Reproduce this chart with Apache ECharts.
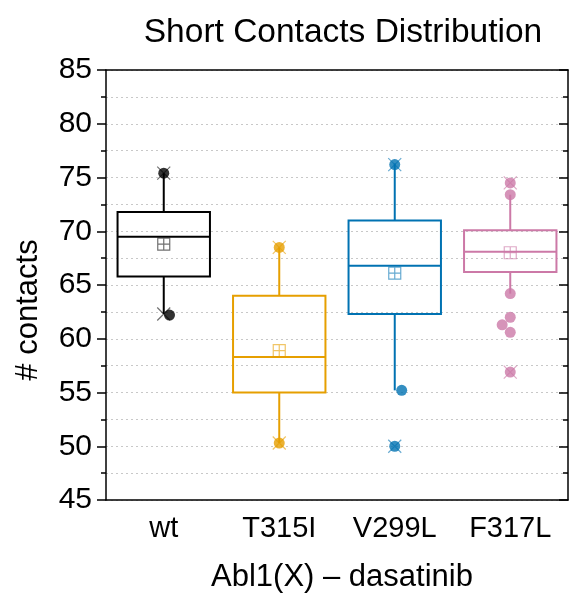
<!DOCTYPE html>
<html>
<head>
<meta charset="utf-8">
<title>Short Contacts Distribution</title>
<script src="https://cdn.jsdelivr.net/npm/echarts@6/dist/echarts.min.js"></script>
<style>
  html, body { margin: 0; padding: 0; background: #fff; }
  #chart { width: 569px; height: 596px; }
</style>
</head>
<body>
<div id="chart"></div>
<script>
// categories and box statistics
var categories = ['wt', 'T315I', 'V299L', 'F317L'];
var whiskerLow  = [62.3, 50.3, 55.2, 64.2];
var q1          = [65.8, 55.0, 62.3, 66.2];
var median      = [69.5, 58.3, 66.8, 68.1];
var q3          = [71.8, 64.0, 71.0, 70.1];
var whiskerHigh = [75.4, 68.5, 76.3, 73.4];
var means       = [68.8, 58.9, 66.1, 68.0];
var minVals     = [62.3, 50.3, 50.0, 56.9];
var maxVals     = [75.4, 68.5, 76.2, 74.5];

// single points (category index, value, small horizontal jitter in category units)
var dotCat   = [0, 0, 1, 1, 2, 2, 2, 3, 3, 3, 3, 3, 3, 3];
var dotVal   = [75.4, 62.2, 68.5, 50.3, 76.2, 55.2, 50.0, 74.5, 73.4, 64.2, 62.0, 61.3, 60.6, 56.9];
var dotShift = [0, 0.05, 0, 0, 0, 0.06, 0, 0, 0, 0, 0, -0.07, 0, 0];

var yTicks = [45, 50, 55, 60, 65, 70, 75, 80, 85];

var colors = ['#000000', '#E69F00', '#0072B2', '#CC79A7'];
var faded  = ['rgba(0,0,0,0.7)', 'rgba(230,159,0,0.75)', 'rgba(0,114,178,0.75)', 'rgba(204,121,167,0.8)'];
var FONT = '"Liberation Sans", Arial, sans-serif';

var chart = echarts.init(document.getElementById('chart'));

var boxData = categories.map(function (c, i) {
  return [i, whiskerLow[i], q1[i], median[i], q3[i], whiskerHigh[i]];
});

function renderBox(params, api) {
  var i = api.value(0);
  var col = colors[params.dataIndex];
  var lo = api.coord([i, api.value(1)]);
  var b1 = api.coord([i, api.value(2)]);
  var md = api.coord([i, api.value(3)]);
  var b3 = api.coord([i, api.value(4)]);
  var hi = api.coord([i, api.value(5)]);
  var half = api.size([1, 0])[0] * 0.8 / 2;
  var line = { stroke: col, lineWidth: 2 };
  return {
    type: 'group',
    children: [
      { type: 'line', shape: { x1: lo[0], y1: lo[1], x2: b1[0], y2: b1[1] }, style: line },
      { type: 'line', shape: { x1: b3[0], y1: b3[1], x2: hi[0], y2: hi[1] }, style: line },
      { type: 'rect', shape: { x: b3[0] - half, y: b3[1], width: half * 2, height: b1[1] - b3[1] },
        style: { fill: 'none', stroke: col, lineWidth: 2 } },
      { type: 'line', shape: { x1: md[0] - half, y1: md[1], x2: md[0] + half, y2: md[1] }, style: line }
    ]
  };
}

var crossSymbol = 'path://M0,0L10,10M10,0L0,10';
var meanSymbol = 'path://M0,0H10V10H0ZM5,0V10M0,5H10';

var extremeData = [];
categories.forEach(function (c, i) {
  extremeData.push({ value: [i, maxVals[i]], itemStyle: { borderColor: faded[i] } });
  extremeData.push({ value: [i, minVals[i]], itemStyle: { borderColor: faded[i] } });
});

var dotData = dotVal.map(function (v, k) {
  return { value: [dotCat[k] + dotShift[k], v], itemStyle: { color: colors[dotCat[k]] } };
});

var meanData = means.map(function (m, i) {
  return { value: [i, m], itemStyle: { borderColor: faded[i] } };
});

var axisLine = { show: true, onZero: false, lineStyle: { color: '#000', width: 1.5 } };

chart.setOption({
  animation: false,
  title: {
    text: 'Short Contacts Distribution',
    left: 338,
    top: 11,
    textAlign: 'center',
    textStyle: { fontFamily: FONT, fontSize: 33.5, fontWeight: 'normal', color: '#000' }
  },
  grid: { left: 106, right: 1, top: 70, bottom: 96, containLabel: false, outerBoundsMode: 'none' },
  xAxis: [
    {
      type: 'category',
      data: categories,
      position: 'bottom',
      name: 'Abl1(X) \u2013 dasatinib',
      nameLocation: 'middle',
      nameGap: 62,
      nameTextStyle: { fontFamily: FONT, fontSize: 31, color: '#000', padding: [0, 0, 0, 10] },
      axisLine: axisLine,
      axisTick: { alignWithLabel: true, length: 7, lineStyle: { color: '#000', width: 1.5 } },
      axisLabel: { fontFamily: FONT, fontSize: 29, color: '#000', margin: 14 },
      splitLine: { show: false }
    },
    {
      type: 'category',
      data: categories,
      position: 'top',
      axisLine: axisLine,
      axisTick: { alignWithLabel: true, inside: true, length: 7, lineStyle: { color: '#000', width: 1.5 } },
      axisLabel: { show: false },
      splitLine: { show: false }
    },
    {
      type: 'value',
      position: 'bottom',
      min: -0.5,
      max: 3.5,
      show: false
    }
  ],
  yAxis: [
    {
      type: 'value',
      position: 'left',
      min: yTicks[0],
      max: yTicks[yTicks.length - 1],
      interval: 5,
      name: '# contacts',
      nameLocation: 'middle',
      nameGap: 62,
      nameTextStyle: { fontFamily: FONT, fontSize: 31, color: '#000', padding: [0, 50, 0, 0] },
      axisLine: axisLine,
      axisTick: { show: true, length: 9, lineStyle: { color: '#000', width: 1.5 } },
      minorTick: { show: true, splitNumber: 2, length: 5, lineStyle: { color: '#000', width: 1.5 } },
      axisLabel: { fontFamily: FONT, fontSize: 30, color: '#000', margin: 14 },
      splitLine: { show: true, lineStyle: { color: '#c8c8c8', type: [2, 3], width: 1 } },
      minorSplitLine: { show: true, lineStyle: { color: '#c8c8c8', type: [2, 3], width: 1 } }
    },
    {
      type: 'value',
      position: 'right',
      min: yTicks[0],
      max: yTicks[yTicks.length - 1],
      interval: 5,
      axisLine: axisLine,
      axisTick: { show: true, inside: true, length: 9, lineStyle: { color: '#000', width: 1.5 } },
      minorTick: { show: true, splitNumber: 2, length: 5, lineStyle: { color: '#000', width: 1.5 } },
      axisLabel: { show: false },
      splitLine: { show: false }
    }
  ],
  series: [
    {
      type: 'custom',
      name: 'box',
      xAxisIndex: 0,
      yAxisIndex: 0,
      renderItem: renderBox,
      encode: { x: 0, y: [1, 2, 3, 4, 5] },
      data: boxData,
      z: 2
    },
    {
      type: 'scatter',
      name: 'min/max',
      xAxisIndex: 0,
      yAxisIndex: 0,
      symbol: crossSymbol,
      symbolSize: 13,
      itemStyle: { color: 'transparent', borderWidth: 1.2 },
      data: extremeData,
      z: 3
    },
    {
      type: 'scatter',
      name: 'points',
      xAxisIndex: 2,
      yAxisIndex: 0,
      symbol: 'circle',
      symbolSize: 11,
      data: dotData,
      z: 4
    },
    {
      type: 'scatter',
      name: 'mean',
      xAxisIndex: 0,
      yAxisIndex: 0,
      symbol: meanSymbol,
      symbolSize: 12,
      itemStyle: { color: 'transparent', borderWidth: 1.2 },
      data: meanData,
      z: 5
    }
  ]
});
</script>
</body>
</html>
